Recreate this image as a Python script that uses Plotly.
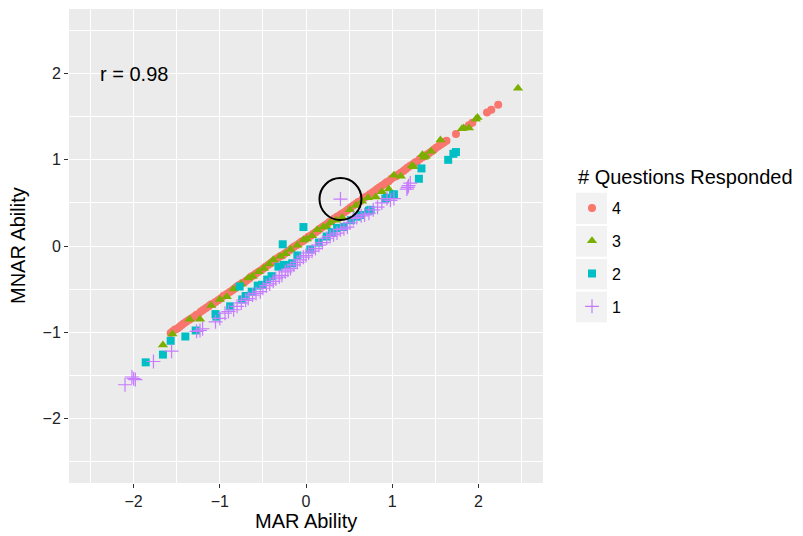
import plotly.graph_objects as go

# ---------------- data ----------------
groups = ["4", "3", "2", "1"]

mar_4 = [-1.57, -1.545, -1.52, -1.495, -1.47, -1.445, -1.42, -1.39, -1.36, -1.33,
         -1.30, -1.275, -1.25, -1.22, -1.19, -1.16, -1.13, -1.105, -1.08, -1.05,
         -1.02, -0.99, -0.96, -0.935, -0.91, -0.88, -0.85, -0.825, -0.80, -0.77,
         -0.74, -0.715, -0.69, -0.66, -0.63, -0.605, -0.58, -0.55, -0.52, -0.495,
         -0.47, -0.44, -0.41, -0.385, -0.36, -0.33, -0.30, -0.275, -0.25, -0.22,
         -0.19, -0.165, -0.14, -0.11, -0.08, -0.055, -0.03, 0.00, 0.03, 0.055,
         0.08, 0.11, 0.14, 0.165, 0.19, 0.22, 0.25, 0.275, 0.30, 0.33,
         0.36, 0.385, 0.41, 0.44, 0.47, 0.495, 0.52, 0.55, 0.58, 0.605,
         0.63, 0.66, 0.69, 0.715, 0.74, 0.77, 0.80, 0.825, 0.85, 0.88,
         0.91, 0.935, 0.96, 0.99, 1.02, 1.045, 1.07, 1.10, 1.13, 1.155,
         1.18, 1.21, 1.24, 1.265, 1.29, 1.32, 1.35, 1.375, 1.40, 1.43,
         1.46, 1.485, 1.51, 1.54, 1.57, 1.60, 1.63, 1.74, 1.89, 1.93,
         2.10, 2.15, 2.23]
mnar_4 = [-1.01, -0.99, -0.97, -0.96, -0.94, -0.92, -0.90, -0.88, -0.86, -0.84,
          -0.82, -0.80, -0.79, -0.76, -0.74, -0.72, -0.70, -0.68, -0.67, -0.65,
          -0.63, -0.61, -0.58, -0.57, -0.55, -0.53, -0.51, -0.49, -0.47, -0.45,
          -0.43, -0.42, -0.40, -0.38, -0.35, -0.34, -0.32, -0.30, -0.28, -0.26,
          -0.24, -0.22, -0.20, -0.18, -0.17, -0.14, -0.12, -0.11, -0.09, -0.07,
          -0.05, -0.03, -0.01, 0.01, 0.03, 0.05, 0.06, 0.085, 0.11, 0.12,
          0.14, 0.16, 0.18, 0.20, 0.22, 0.24, 0.26, 0.28, 0.29, 0.32,
          0.34, 0.35, 0.37, 0.39, 0.41, 0.43, 0.45, 0.47, 0.49, 0.51,
          0.52, 0.55, 0.57, 0.58, 0.60, 0.62, 0.64, 0.66, 0.68, 0.70,
          0.72, 0.74, 0.75, 0.78, 0.80, 0.81, 0.83, 0.85, 0.87, 0.89,
          0.91, 0.93, 0.95, 0.97, 0.98, 1.01, 1.03, 1.04, 1.06, 1.08,
          1.10, 1.12, 1.14, 1.16, 1.18, 1.20, 1.22, 1.30, 1.40, 1.43,
          1.55, 1.58, 1.64]

mar_3 = [-1.66, -1.55, -1.35, -1.23, -1.10, -1.00, -0.92, -0.84, -0.75, -0.67,
         -0.62, -0.55, -0.49, -0.43, -0.38, -0.30, -0.24, -0.18, -0.10, -0.03,
         0.01, 0.07, 0.13, 0.20, 0.24, 0.28, 0.35, 0.42, 0.51, 0.58,
         0.65, 0.72, 0.81, 0.88, 0.96, 1.02, 1.10, 1.23, 1.25, 1.35,
         1.37, 1.39, 1.45, 1.56, 1.81, 1.83, 1.89, 1.97, 1.99, 2.46]
mnar_3 = [-1.15, -1.02, -0.85, -0.85, -0.69, -0.62, -0.59, -0.50, -0.44, -0.37,
          -0.35, -0.30, -0.26, -0.21, -0.16, -0.12, -0.09, -0.04, 0.01, 0.07,
          0.08, 0.12, 0.19, 0.22, 0.22, 0.27, 0.30, 0.33, 0.42, 0.47,
          0.52, 0.56, 0.57, 0.63, 0.66, 0.82, 0.81, 0.93, 0.92, 1.06,
          1.03, 1.04, 1.10, 1.23, 1.36, 1.37, 1.37, 1.47, 1.49, 1.83]

mar_2 = [-1.86, -1.66, -1.57, -1.40, -1.28, -1.05, -1.04, -0.88, -0.77, -0.74,
         -0.70, -0.63, -0.56, -0.51, -0.45, -0.40, -0.32, -0.27, -0.26, -0.22,
         -0.16, -0.10, -0.03, 0.05, 0.15, 0.24, 0.30, 0.36, 0.44, 0.52,
         0.59, 0.63, 0.73, 0.75, 0.92, 0.94, 1.01, 1.02, 1.31, 1.34,
         1.65, 1.71, 1.74]
mnar_2 = [-1.35, -1.26, -1.10, -1.05, -0.98, -0.79, -0.82, -0.70, -0.47, -0.62,
          -0.58, -0.53, -0.46, -0.45, -0.39, -0.35, -0.24, 0.02, -0.22, -0.22,
          -0.20, -0.11, 0.22, -0.04, 0.04, 0.11, 0.16, 0.21, 0.22, 0.30,
          0.34, 0.36, 0.41, 0.42, 0.55, 0.56, 0.59, 0.60, 0.78, 0.90,
          1.00, 1.07, 1.09]

mar_1 = [-2.10, -2.02, -2.00, -1.98, -1.77, -1.56, -1.27, -1.23, -1.20, -1.05,
         -1.00, -0.94, -0.90, -0.84, -0.80, -0.75, -0.70, -0.67, -0.62, -0.58,
         -0.53, -0.50, -0.46, -0.42, -0.38, -0.35, -0.31, -0.28, -0.24, -0.21,
         -0.18, -0.14, -0.10, -0.07, -0.03, 0.00, 0.03, 0.07, 0.11, 0.15,
         0.19, 0.24, 0.28, 0.32, 0.36, 0.40, 0.44, 0.48, 0.51, 0.55,
         0.59, 0.64, 0.68, 0.73, 0.78, 0.83, 0.88, 0.94, 0.98, 1.02,
         1.17, 1.18, 1.19, 1.21, 0.40]
mnar_1 = [-1.61, -1.52, -1.54, -1.55, -1.34, -1.22, -0.99, -0.98, -0.96, -0.88,
          -0.84, -0.78, -0.76, -0.74, -0.70, -0.66, -0.63, -0.61, -0.57, -0.55,
          -0.53, -0.49, -0.46, -0.44, -0.41, -0.38, -0.36, -0.34, -0.30, -0.28,
          -0.26, -0.22, -0.19, -0.16, -0.13, -0.11, -0.08, -0.06, -0.03, 0.01,
          0.04, 0.09, 0.11, 0.13, 0.15, 0.19, 0.20, 0.22, 0.27, 0.32,
          0.33, 0.35, 0.36, 0.38, 0.42, 0.45, 0.50, 0.55, 0.53, 0.55,
          0.66, 0.68, 0.70, 0.73, 0.545]

highlight_x = [0.40]
highlight_y = [0.545]

r_label = "r = 0.98"
r_pos = (-2.0, 2.0)

x_ticks = [-2, -1, 0, 1, 2]
y_ticks = [-2, -1, 0, 1, 2]
minor_ticks = [-2.5, -1.5, -0.5, 0.5, 1.5, 2.5]

# ---------------- styling ----------------
colors = {"4": "#F8766D", "3": "#7CAE00", "2": "#00BFC4", "1": "#C77CFF"}
symbols = {"4": "circle", "3": "triangle-up", "2": "square", "1": "cross-thin-open"}
sizes = {"4": 8, "3": 9, "2": 8, "1": 10}
series = {"4": (mar_4, mnar_4), "3": (mar_3, mnar_3),
          "2": (mar_2, mnar_2), "1": (mar_1, mnar_1)}

FONT = "Liberation Sans, Arial, Helvetica, sans-serif"

fig = go.Figure()
for g in groups:
    xs, ys = series[g]
    marker = dict(symbol=symbols[g], size=sizes[g], color=colors[g])
    if g == "1":
        marker["line"] = dict(color=colors[g], width=1.2)
    else:
        marker["line"] = dict(width=0)
    fig.add_trace(go.Scatter(x=xs, y=ys, mode="markers", name=g,
                             legendgroup=g, marker=marker))

fig.add_trace(go.Scatter(x=highlight_x, y=highlight_y, mode="markers",
                         showlegend=False, hoverinfo="skip",
                         marker=dict(symbol="circle-open", size=42, color="black",
                                     line=dict(color="black", width=2))))

fig.add_annotation(x=r_pos[0], y=r_pos[1], text=r_label, showarrow=False,
                   font=dict(size=20, color="black", family=FONT),
                   xanchor="center", yanchor="middle")

# panel pixel bounds (used for placing titles and legend-key backgrounds)
PL, PR, PT, PB = 69, 543, 9, 483
def px_x(p):
    return (p - PL) / (PR - PL)
def px_y(p):
    return (PB - p) / (PB - PT)

key_boxes = [(192.7, 224.0), (226.0, 256.7), (259.0, 289.3), (291.7, 322.3)]
for top, bot in key_boxes:
    fig.add_shape(type="rect", xref="paper", yref="paper",
                  x0=px_x(576), x1=px_x(607), y0=px_y(bot), y1=px_y(top),
                  fillcolor="#F2F2F2", line=dict(width=0), layer="below")

# axis and legend titles as text
fig.add_annotation(xref="paper", yref="paper", x=0.5, y=px_y(521),
                   text="MAR Ability", showarrow=False,
                   font=dict(size=20, color="black", family=FONT),
                   xanchor="center", yanchor="middle")
fig.add_annotation(xref="paper", yref="paper", x=px_x(18), y=0.5,
                   text="MNAR Ability", showarrow=False, textangle=-90,
                   font=dict(size=20, color="black", family=FONT),
                   xanchor="center", yanchor="middle")
fig.add_annotation(xref="paper", yref="paper", x=px_x(576), y=px_y(177),
                   text="# Questions Responded", showarrow=False,
                   font=dict(size=20, color="black", family=FONT),
                   xanchor="left", yanchor="middle")

axis_common = dict(
    showgrid=True, gridcolor="white", gridwidth=1.3,
    zeroline=False, showline=False, automargin=False,
    ticks="outside", ticklen=4, tickwidth=1.1, tickcolor="#333333",
    tickfont=dict(size=16, color="#222222", family=FONT),
)

fig.update_layout(
    width=803, height=536,
    margin=dict(l=PL, r=803 - PR, t=PT, b=536 - PB),
    paper_bgcolor="white", plot_bgcolor="#EBEBEB",
    font=dict(family=FONT, color="black"),
    xaxis=dict(range=[-2.75, 2.75], tickvals=x_ticks,
               minor=dict(tickvals=minor_ticks, showgrid=True,
                          gridcolor="white", gridwidth=0.6, ticks=""),
               **axis_common),
    yaxis=dict(range=[-2.75, 2.75], tickvals=y_ticks,
               minor=dict(tickvals=minor_ticks, showgrid=True,
                          gridcolor="white", gridwidth=0.6, ticks=""),
               **axis_common),
    legend=dict(x=px_x(572), y=px_y(191), xanchor="left", yanchor="top",
                font=dict(size=16, color="black", family=FONT),
                bgcolor="rgba(0,0,0,0)", tracegroupgap=9,
                itemsizing="trace"),
)

fig.write_html("out.html",
               config={"displayModeBar": False},
               post_script="document.body.style.margin='0px';"
                           "document.body.style.overflow='hidden';")
